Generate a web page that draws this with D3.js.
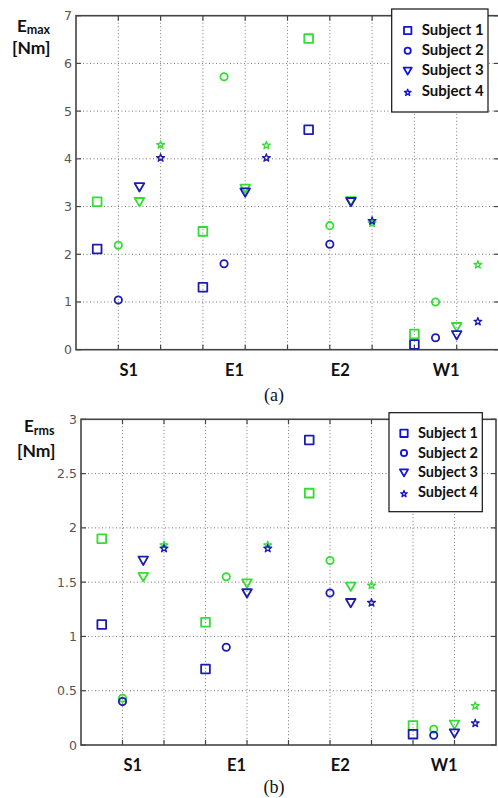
<!DOCTYPE html>
<html><head><meta charset="utf-8">
<script src="https://cdn.jsdelivr.net/npm/d3@7"></script>
<style>body{margin:0;background:#fff}svg{display:block}</style>
</head><body>
<svg id="chart" width="498" height="798"></svg>
<script>
// ---- data ----
const categories = ["S1", "E1", "E2", "W1"];
const subjects = ["Subject 1", "Subject 2", "Subject 3", "Subject 4"];

// Panel (a): E_max [Nm], values per category (S1, E1, E2, W1)
const emaxBlue1 = [2.11, 1.31, 4.61, 0.11];
const emaxBlue2 = [1.04, 1.80, 2.21, 0.25];
const emaxBlue3 = [3.41, 3.30, 3.10, 0.31];
const emaxBlue4 = [4.02, 4.02, 2.70, 0.59];
const emaxGreen1 = [3.10, 2.48, 6.52, 0.33];
const emaxGreen2 = [2.19, 5.72, 2.60, 1.00];
const emaxGreen3 = [3.10, 3.38, 3.12, 0.48];
const emaxGreen4 = [4.29, 4.28, 2.65, 1.78];
const emaxTicks = [0, 1, 2, 3, 4, 5, 6, 7];

// Panel (b): E_rms [Nm]
const ermsBlue1 = [1.11, 0.70, 2.81, 0.10];
const ermsBlue2 = [0.40, 0.90, 1.40, 0.09];
const ermsBlue3 = [1.70, 1.40, 1.31, 0.11];
const ermsBlue4 = [1.81, 1.81, 1.31, 0.20];
const ermsGreen1 = [1.90, 1.13, 2.32, 0.18];
const ermsGreen2 = [0.43, 1.55, 1.70, 0.145];
const ermsGreen3 = [1.55, 1.49, 1.46, 0.19];
const ermsGreen4 = [1.84, 1.84, 1.47, 0.36];
const ermsTicks = [0, 0.5, 1, 1.5, 2, 2.5, 3];

// ---- styles ----
const BLUE = "#1c1cb0";
const GREEN = "#33dd33";
const svg = d3.select("#chart");

const markerPath = [
  s => d3.symbol().type(d3.symbolSquare).size(76 * s * s)(),
  s => d3.symbol().type(d3.symbolCircle).size(42 * s * s)(),
  s => d3.symbol().type(d3.symbolTriangle).size(40 * s * s)(),
  s => d3.symbol().type(d3.symbolStar).size(19 * s * s)()
];
const markerRot = [0, 0, 180, 0];
const markerDy = [0, 0, -1, 0];
const markerSw = [1.8, 1.8, 1.8, 1.3];

function drawPanel(p) {
  const g = svg.append("g");
  const x = d3.scaleLinear().domain([0, 10]).range([p.left, p.right]);
  const y = d3.scaleLinear().domain([0, p.ticks[p.ticks.length - 1]]).range([p.bottom, p.top]);

  // grid
  const xGrid = d3.range(1, 10);
  g.selectAll(".vg").data(xGrid).join("line")
    .attr("x1", d => x(d)).attr("x2", d => x(d))
    .attr("y1", p.top).attr("y2", p.bottom)
    .attr("stroke", "#777").attr("stroke-width", 1).attr("stroke-dasharray", "1,2.5");
  g.selectAll(".hg").data(p.ticks.slice(1, -1)).join("line")
    .attr("x1", p.left).attr("x2", p.right)
    .attr("y1", d => y(d)).attr("y2", d => y(d))
    .attr("stroke", "#777").attr("stroke-width", 1).attr("stroke-dasharray", "1,2.5");

  // inward ticks
  const tl = 5;
  g.selectAll(".xtb").data(xGrid).join("line")
    .attr("x1", d => x(d)).attr("x2", d => x(d))
    .attr("y1", p.bottom).attr("y2", p.bottom - tl)
    .attr("stroke", "#444").attr("stroke-width", 1.2);
  g.selectAll(".xtt").data(xGrid).join("line")
    .attr("x1", d => x(d)).attr("x2", d => x(d))
    .attr("y1", p.top).attr("y2", p.top + tl)
    .attr("stroke", "#444").attr("stroke-width", 1.2);
  g.selectAll(".ytl").data(p.ticks).join("line")
    .attr("x1", p.left).attr("x2", p.left + tl)
    .attr("y1", d => y(d)).attr("y2", d => y(d))
    .attr("stroke", "#444").attr("stroke-width", 1.2);
  g.selectAll(".ytr").data(p.ticks).join("line")
    .attr("x1", p.right).attr("x2", p.right - tl)
    .attr("y1", d => y(d)).attr("y2", d => y(d))
    .attr("stroke", "#444").attr("stroke-width", 1.2);

  // frame
  g.append("rect").attr("x", p.left).attr("y", p.top)
    .attr("width", p.right - p.left).attr("height", p.bottom - p.top)
    .attr("fill", "none").attr("stroke", "#444").attr("stroke-width", 1.6);

  // y tick labels
  const fmt = d3.format("~g");
  g.selectAll(".ytlab").data(p.ticks).join("text")
    .attr("x", p.left - 4).attr("y", d => y(d) + 4.5)
    .attr("text-anchor", "end")
    .attr("font-family", "DejaVu Sans, sans-serif").attr("font-size", 12.5)
    .attr("fill", "#555").text(d => fmt(d));

  // category labels
  g.selectAll(".cat").data(categories).join("text")
    .attr("x", (d, i) => x(0.5 + 2.5 * i + 0.75))
    .attr("y", p.bottom + 26)
    .attr("text-anchor", "middle")
    .attr("font-family", "Lato, sans-serif").attr("font-weight", "bold").attr("font-size", 16.5)
    .attr("fill", "#111").text(d => d);

  // y label
  const yl = g.append("text").attr("font-family", "Lato, sans-serif").attr("font-weight", "bold")
    .attr("fill", "#111");
  yl.append("tspan").attr("x", p.ylx).attr("y", p.yly).attr("font-size", 17).text("E");
  yl.append("tspan").attr("dy", 2.5).attr("font-size", 12.5).text(p.sub);
  g.append("text").attr("x", p.ylx2).attr("y", p.yly2)
    .attr("font-family", "Lato, sans-serif").attr("font-weight", "bold").attr("font-size", 17.5)
    .attr("fill", "#111").text("[Nm]");

  // markers: green first, blue over
  const drawSeries = (series, color) => {
    series.forEach((vals, j) => {
      g.selectAll(null).data(vals).join("path")
        .attr("d", markerPath[j](1))
        .attr("transform", (v, i) => `translate(${x(0.5 + 2.5 * i + 0.5 * j)},${y(v) + markerDy[j]}) rotate(${markerRot[j]})`)
        .attr("fill", "none").attr("stroke", color).attr("stroke-width", markerSw[j])
        .attr("stroke-linejoin", "round");
    });
  };
  drawSeries(p.green, GREEN);
  drawSeries(p.blue, BLUE);

  // legend
  const L = p.legend;
  g.append("rect").attr("x", L.x).attr("y", L.y).attr("width", L.w).attr("height", L.h)
    .attr("fill", "#fff").attr("stroke", "#111").attr("stroke-width", 1.2);
  subjects.forEach((s, j) => {
    const cy = L.y + L.first + j * L.step;
    g.append("path").attr("d", markerPath[j](0.85))
      .attr("transform", `translate(${L.x + L.mx},${cy + (j === 3 ? 1.5 : 0) + markerDy[j]}) rotate(${markerRot[j]})`)
      .attr("fill", "none").attr("stroke", "#1212d8").attr("stroke-width", markerSw[j])
      .attr("stroke-linejoin", "round");
    g.append("text").attr("x", L.x + L.tx).attr("y", cy + 4.5)
      .attr("font-family", "Lato, sans-serif").attr("font-weight", "bold").attr("font-size", L.fs)
      .attr("fill", "#111").text(s);
  });

  // caption
  g.append("text").attr("x", 274).attr("y", p.capY).attr("text-anchor", "middle")
    .attr("font-family", "Liberation Serif, serif").attr("font-size", 18)
    .attr("fill", "#111").text(p.caption);
}

drawPanel({
  left: 76, right: 499, top: 15.7, bottom: 349.7, ticks: emaxTicks,
  blue: [emaxBlue1, emaxBlue2, emaxBlue3, emaxBlue4],
  green: [emaxGreen1, emaxGreen2, emaxGreen3, emaxGreen4],
  sub: "max", ylx: 17, yly: 31.5, ylx2: 12, yly2: 54,
  legend: { x: 391.7, y: 9, w: 96.3, h: 103, first: 21.5, step: 20.2, mx: 16, tx: 30, fs: 15 },
  caption: "(a)", capY: 401
});
drawPanel({
  left: 81, right: 496, top: 419.3, bottom: 745, ticks: ermsTicks,
  blue: [ermsBlue1, ermsBlue2, ermsBlue3, ermsBlue4],
  green: [ermsGreen1, ermsGreen2, ermsGreen3, ermsGreen4],
  sub: "rms", ylx: 24, yly: 432, ylx2: 17, yly2: 456.5,
  legend: { x: 389, y: 412.7, w: 93.3, h: 99, first: 20.6, step: 19.7, mx: 15, tx: 29, fs: 14.5 },
  caption: "(b)", capY: 793
});
</script>
</body></html>
